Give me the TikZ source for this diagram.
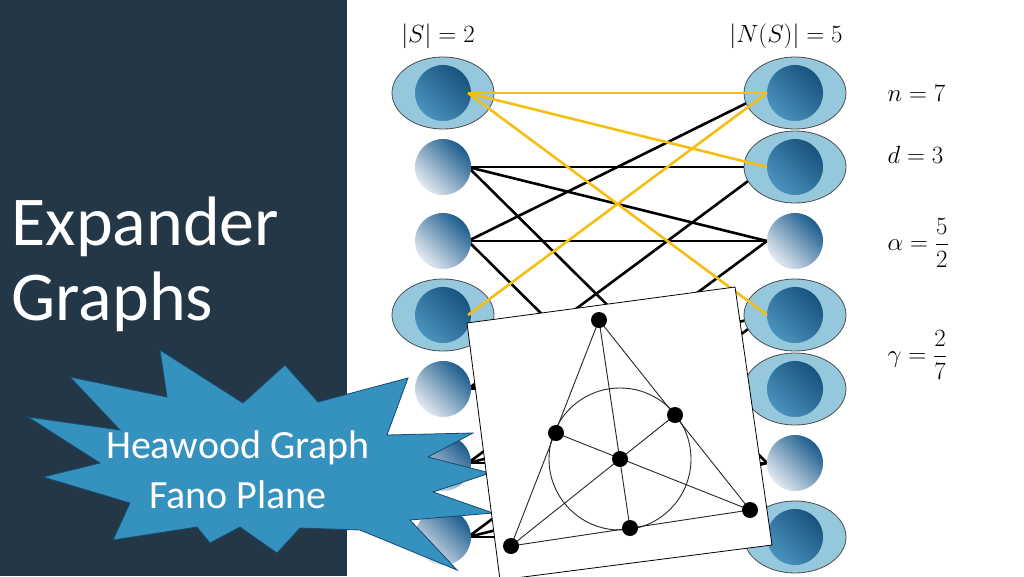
\documentclass[tikz,border=0pt]{standalone}
\usepackage{amsmath}
\usepackage{fontspec}
\setmainfont{Carlito}
\usetikzlibrary{shapes.geometric}
\begin{document}
\begin{tikzpicture}[x=1pt,y=-1pt,
  ball/.style={circle,minimum size=56pt,inner sep=0pt,shading=axis,top color=ballA,bottom color=ballB,shading angle=315},
  iball/.style={circle,minimum size=56pt,inner sep=0pt,shading=axis,top color=ballA!90!black,bottom color=ballC,shading angle=315},
  ell/.style={ellipse,draw=black!70,line width=0.8pt,fill=ellfill,minimum width=102pt,minimum height=72pt,inner sep=0pt},
  blk/.style={line width=2.6pt,black},
  ylw/.style={line width=2.6pt,ylc},
  dot/.style={circle,fill=black,minimum size=16pt,inner sep=0pt},
  fl/.style={line width=0.9pt,black!85},
  mth/.style={font=\fontsize{36}{38}\selectfont}]
\definecolor{panel}{HTML}{243746}
\definecolor{ballA}{HTML}{1B5C8C}
\definecolor{ballB}{HTML}{E4EAF2}
\definecolor{ballC}{HTML}{4A93BE}
\definecolor{ellfill}{HTML}{95C8DD}
\definecolor{ylc}{HTML}{F5BE12}
\definecolor{burst}{HTML}{3591BE}
\useasboundingbox (0,0) rectangle (1024,576);
\fill[white] (0,0) rectangle (1024,576);
\fill[panel] (0,0) rectangle (347,576);
\node[white,anchor=base west,font=\fontsize{70}{72}\selectfont] (title) at (8,245) {Expander};
\node[white,anchor=base west,font=\fontsize{70}{72}\selectfont] (title2) at (8,320) {Graphs};
% coordinates
\foreach \i/\y in {1/93,2/167,3/241,4/315,5/389,6/463,7/537}{
  \coordinate (L\i) at (443,\y);
  \coordinate (R\i) at (795,\y);
}
% edges black
\foreach \a/\b in {2/2,2/3,2/6,3/1,3/3,3/7,4/5,4/7,5/2,5/4,5/5,6/3,6/5,6/6,7/4,7/6,7/7}{
  \draw[blk] ([xshift=25pt]L\a) -- ([xshift=-28pt]R\b);
}
% ellipses and balls
\foreach \i in {1,4}{\node[ell] (EL\i) at (L\i) {};}
\foreach \i in {1,2,4,5,7}{\node[ell] (ER\i) at (R\i) {};}
\foreach \i in {2,3,5,6,7}{\node[ball] (BL\i) at (L\i) {};}
\foreach \i in {1,4}{\node[iball] (BL\i) at (L\i) {};}
\foreach \i in {3,6}{\node[ball] (BR\i) at (R\i) {};}
\foreach \i in {1,2,4,5,7}{\node[iball] (BR\i) at (R\i) {};}
% yellow edges
\foreach \a/\b in {1/1,1/2,1/4,4/1}{
  \draw[ylw] ([xshift=25pt]L\a) -- ([xshift=-28pt]R\b);
}
% labels
\node[mth,anchor=base] (s) at (438,42) {$|S|=2$};
\node[mth,anchor=base] (ns) at (786,42) {$|N(S)|=5$};
\node[mth,anchor=west] (n) at (884,93) {$n=7$};
\node[mth,anchor=west] (d) at (884,155) {$d=3$};
\node[mth,anchor=west] (al) at (884,243) {$\alpha=\dfrac{5}{2}$};
\node[mth,anchor=west] (ga) at (884,355) {$\gamma=\dfrac{2}{7}$};
% starburst
\draw[fill=burst,draw=ballA!80!black,line width=0.8pt]
 (70,377)--(167,397)--(160,350)--(243,403)--(285,365)--(318,402)--(408,378)--(387,435)--(473,433)--(428,457)--(490,473)--(433,492)--(493,513)--(410,520)--(457,570)--(360,530)--(300,528)--(277,553)--(240,527)--(210,543)--(197,527)--(113,540)--(130,503)--(43,477)--(100,463)--(28,417)--(120,430)--cycle;
\node[white,font=\fontsize{40}{50}\selectfont,align=center] (hw) at (238,470) {Heawood Graph\\Fano Plane};
% Fano box
\draw[fill=white,line width=0.8pt] (467,323)--(735,287)--(772,545)--(500,580)--cycle;
\coordinate (F1) at (599,320);
\coordinate (F2) at (511,546);
\coordinate (F3) at (750,510);
\coordinate (F4) at (556,433);
\coordinate (F5) at (675,415);
\coordinate (F6) at (630,528);
\coordinate (F7) at (620,459);
\draw[fl] (F1)--(F2)--(F3)--cycle;
\draw[fl] (F1)--(F6) (F2)--(F5) (F3)--(F4);
\draw[fl] (F7) circle[radius=71];
\foreach \i in {1,...,7}{\node[dot] (D\i) at (F\i) {};}
\end{tikzpicture}
\end{document}
